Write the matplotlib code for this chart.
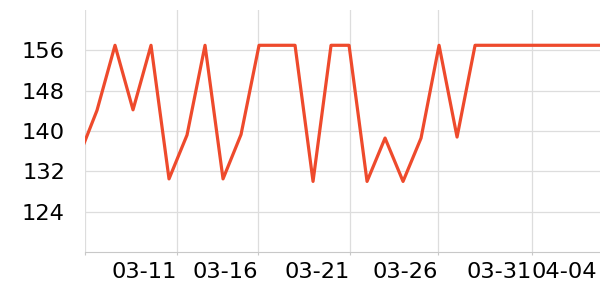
import matplotlib
matplotlib.use("Agg")
import matplotlib.pyplot as plt

# daily values, first one sits just left of the visible range
values = [135, 144.1, 157, 144.2, 157, 130.5, 139.2, 157, 130.5, 139.3,
          157, 157, 157, 130, 157, 157, 130, 138.6, 130, 138.6,
          157, 138.8, 157, 157, 157, 157, 157, 157, 157, 157]
tick_pos = [0.333, 5.44, 9.94, 15.06, 19.94, 25.15, 28.78]
tick_labels = ["", "03-11", "03-16", "03-21", "03-26", "03-31", "04-04"]
y_ticks = [124, 132, 140, 148, 156]

fig = plt.figure(figsize=(6, 3), dpi=100)
ax = fig.add_axes([85 / 600, 48 / 300, 515 / 600, 242 / 300])

ax.plot(range(len(values)), values, color="#ee4a2c", lw=2.3, zorder=3)

ax.set_xlim(0.333, 28.94)
ax.set_ylim(116, 164)
ax.set_yticks(y_ticks)
ax.set_xticks(tick_pos)
ax.set_xticklabels(tick_labels, ha="right")

ax.grid(True, color="#dddddd", lw=0.9)
ax.get_xgridlines()[-1].set_visible(False)
ax.xaxis.get_major_ticks()[-1].tick1line.set_visible(False)
for s in ["top", "right", "left"]:
    ax.spines[s].set_visible(False)
ax.spines["bottom"].set_color("#c8c8c8")
ax.tick_params(axis="y", length=0, pad=14.4, labelsize=16.2)
ax.tick_params(axis="x", length=2.2, color="#c8c8c8", pad=5, labelsize=16.2)

fig.savefig("out.png", dpi=100)
